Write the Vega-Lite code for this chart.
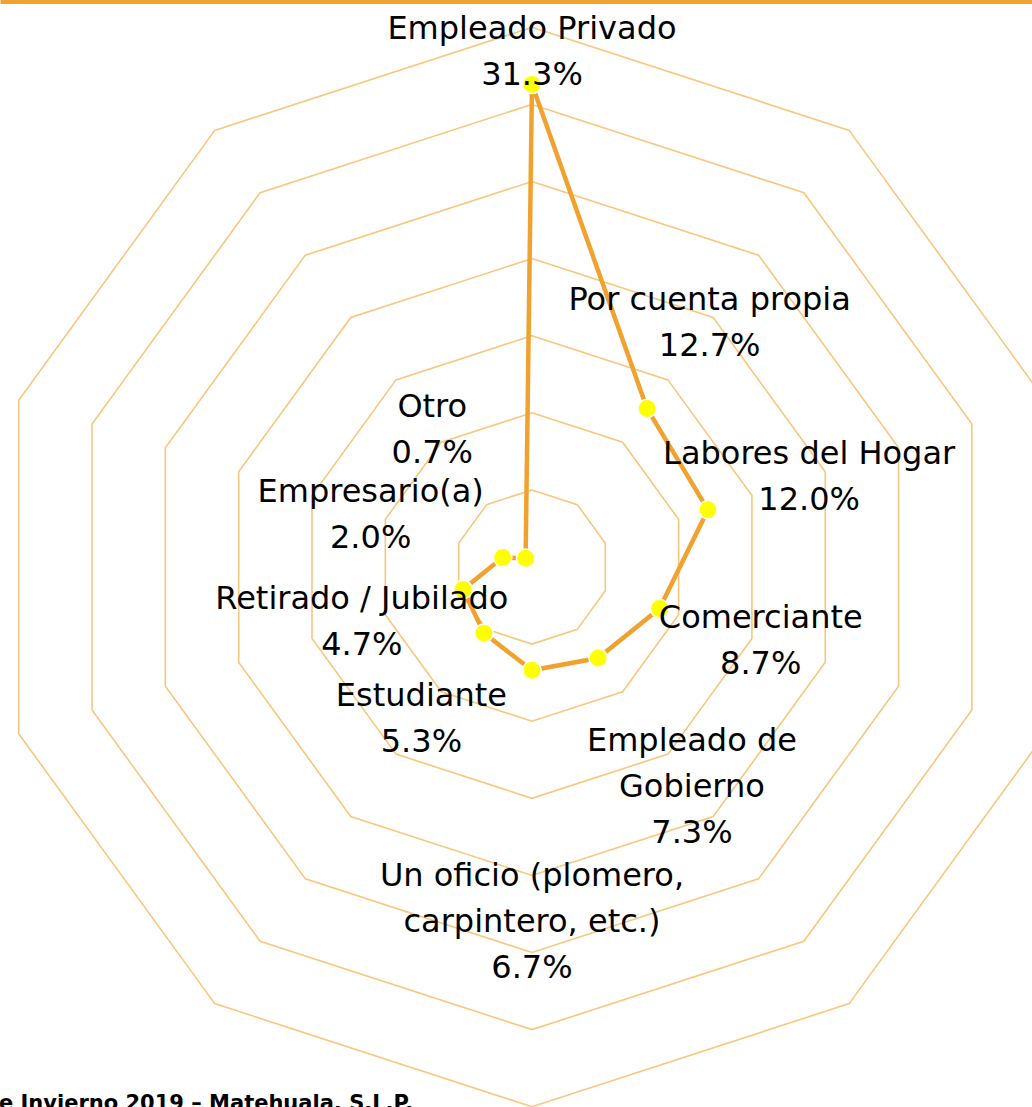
{
  "$schema": "https://vega.github.io/schema/vega-lite/v6.json",
  "width": 1032,
  "height": 1107,
  "padding": 0,
  "autosize": {"type": "none"},
  "background": "white",
  "config": {"view": {"stroke": null}, "font": "DejaVu Sans"},
  "title": {
    "text": "e Invierno 2019 – Matehuala, S.L.P.",
    "orient": "bottom",
    "anchor": "start",
    "frame": "group",
    "font": "DejaVu Sans",
    "fontSize": 21,
    "fontWeight": "bold",
    "color": "#000000",
    "baseline": "alphabetic",
    "offset": 0,
    "dx": -1
  },
  "datasets": {
    "ocupacion": [
      {"categoria": "Empleado Privado", "etiqueta": "Empleado Privado", "porcentaje": 31.3, "orden": 0},
      {"categoria": "Por cuenta propia", "etiqueta": "Por cuenta propia", "porcentaje": 12.7, "orden": 1},
      {"categoria": "Labores del Hogar", "etiqueta": "Labores del Hogar", "porcentaje": 12.0, "orden": 2},
      {"categoria": "Comerciante", "etiqueta": "Comerciante", "porcentaje": 8.7, "orden": 3},
      {"categoria": "Empleado de Gobierno", "etiqueta": "Empleado de\nGobierno", "porcentaje": 7.3, "orden": 4},
      {"categoria": "Un oficio (plomero, carpintero, etc.)", "etiqueta": "Un oficio (plomero,\ncarpintero, etc.)", "porcentaje": 6.7, "orden": 5},
      {"categoria": "Estudiante", "etiqueta": "Estudiante", "porcentaje": 5.3, "orden": 6},
      {"categoria": "Retirado / Jubilado", "etiqueta": "Retirado / Jubilado", "porcentaje": 4.7, "orden": 7},
      {"categoria": "Empresario(a)", "etiqueta": "Empresario(a)", "porcentaje": 2.0, "orden": 8},
      {"categoria": "Otro", "etiqueta": "Otro", "porcentaje": 0.7, "orden": 9}
    ],
    "anillos": [
      {"nivel": 5, "vertice": [0, 1, 2, 3, 4, 5, 6, 7, 8, 9]},
      {"nivel": 10, "vertice": [0, 1, 2, 3, 4, 5, 6, 7, 8, 9]},
      {"nivel": 15, "vertice": [0, 1, 2, 3, 4, 5, 6, 7, 8, 9]},
      {"nivel": 20, "vertice": [0, 1, 2, 3, 4, 5, 6, 7, 8, 9]},
      {"nivel": 25, "vertice": [0, 1, 2, 3, 4, 5, 6, 7, 8, 9]},
      {"nivel": 30, "vertice": [0, 1, 2, 3, 4, 5, 6, 7, 8, 9]},
      {"nivel": 35, "vertice": [0, 1, 2, 3, 4, 5, 6, 7, 8, 9]}
    ]
  },
  "encoding": {
    "x": {
      "field": "x",
      "type": "quantitative",
      "scale": {"domain": [-34.5, 32.43], "nice": false, "zero": false},
      "axis": {"orient": "top", "domain": true, "domainColor": "#F0A22E", "domainWidth": 7, "ticks": false, "labels": false, "grid": false, "title": null}
    },
    "y": {
      "field": "y",
      "type": "quantitative",
      "scale": {"domain": [-35.02, 36.77], "nice": false, "zero": false},
      "axis": null
    }
  },
  "layer": [
    {
      "data": {"name": "anillos"},
      "transform": [
        {"flatten": ["vertice"]},
        {"calculate": "datum.nivel * sin(datum.vertice * PI / 5)", "as": "x"},
        {"calculate": "datum.nivel * cos(datum.vertice * PI / 5)", "as": "y"}
      ],
      "mark": {"type": "line", "interpolate": "linear-closed", "stroke": "#F8C77D", "strokeWidth": 1.6},
      "encoding": {
        "detail": {"field": "nivel", "type": "nominal"},
        "order": {"field": "vertice", "type": "quantitative"}
      }
    },
    {
      "data": {"name": "ocupacion"},
      "transform": [
        {"calculate": "datum.porcentaje * sin(datum.orden * PI / 5)", "as": "x"},
        {"calculate": "datum.porcentaje * cos(datum.orden * PI / 5)", "as": "y"}
      ],
      "mark": {"type": "line", "interpolate": "linear-closed", "stroke": "#F0A22E", "strokeWidth": 4.5},
      "encoding": {
        "order": {"field": "orden", "type": "quantitative"}
      }
    },
    {
      "data": {"name": "ocupacion"},
      "transform": [
        {"calculate": "datum.porcentaje * sin(datum.orden * PI / 5)", "as": "x"},
        {"calculate": "datum.porcentaje * cos(datum.orden * PI / 5)", "as": "y"}
      ],
      "mark": {"type": "circle", "size": 340, "fill": "#FFFF00", "stroke": "#FFFFFF", "strokeWidth": 1.5, "opacity": 1}
    },
    {
      "data": {"name": "ocupacion"},
      "transform": [
        {"calculate": "datum.orden * PI / 5", "as": "ang"},
        {"calculate": "length(split(datum.etiqueta, '\\n')) + 1", "as": "lineas"},
        {"calculate": "min(max(datum.porcentaje + 3.45 * datum.lineas + (cos(datum.ang) < -0.95 ? 6 : 0), 11), 33.4)", "as": "r"},
        {"calculate": "datum.r * sin(datum.ang)", "as": "x"},
        {"calculate": "datum.r * cos(datum.ang) + (datum.lineas - 1) * 1.49", "as": "y"},
        {"calculate": "datum.etiqueta + '\\n' + format(datum.porcentaje, '.1f') + '%'", "as": "texto"}
      ],
      "mark": {"type": "text", "lineBreak": "\n", "font": "DejaVu Sans", "fontSize": 32, "lineHeight": 46, "align": "center", "baseline": "middle", "color": "#000000"},
      "encoding": {
        "text": {"field": "texto", "type": "nominal"}
      }
    }
  ]
}
